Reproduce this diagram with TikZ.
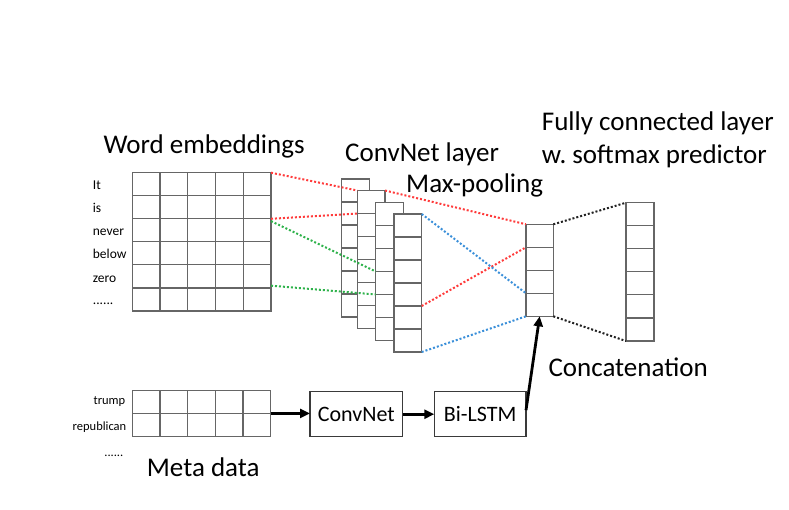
\documentclass[tikz,border=0pt]{standalone}
\usepackage{fontspec}
\setmainfont{Carlito}
\usetikzlibrary{calc,arrows.meta}
\definecolor{gridgray}{HTML}{666666}
\definecolor{boxgray}{HTML}{3A3A3A}
\definecolor{dred}{HTML}{FF3B3B}
\definecolor{dgreen}{HTML}{2EB24B}
\definecolor{dblue}{HTML}{3A8FD9}
\definecolor{dblack}{HTML}{222222}
\tikzset{
  gridnode/.style={draw=gridgray, line width=1.1pt, fill=white, inner sep=0pt, outer sep=0pt, rectangle},
  gl/.style={draw=gridgray, line width=1.1pt},
  dotline/.style={line width=2pt, dash pattern=on 2pt off 2pt},
  title/.style={font=\fontsize{27}{32}\selectfont, inner sep=0pt, anchor=base west},
  word/.style={font=\fontsize{13.5}{16}\selectfont, inner sep=0pt, anchor=base west},
  metaw/.style={font=\fontsize{12.5}{15}\selectfont, inner sep=0pt, anchor=base east},
  procbox/.style={draw=boxgray, line width=1.2pt, fill=white, inner sep=0pt, outer sep=0pt,
    minimum height=45pt, font=\fontsize{22}{26}\selectfont},
  flow/.style={line width=2.8pt, -{Triangle[length=10pt,width=9pt]}},
}
\newcommand\mkrows[3]{% node, rows, list of interior indices
  \foreach \k in {#3}{\draw[gl] ($(#1.north west)!{\k/#2}!(#1.south west)$) -- ($(#1.north east)!{\k/#2}!(#1.south east)$);}}
\newcommand\mkcols[3]{%
  \foreach \k in {#3}{\draw[gl] ($(#1.north west)!{\k/#2}!(#1.north east)$) -- ($(#1.south west)!{\k/#2}!(#1.south east)$);}}
\begin{document}
\begin{tikzpicture}[x=1pt,y=-1pt]
\useasboundingbox (0,0) rectangle (789,509);
% word embeddings
\node[gridnode, minimum width=138.7pt, minimum height=138.3pt] (emb) at (201.65,241.85) {};
\mkrows{emb}{6}{1,...,5}
\mkcols{emb}{5}{1,...,4}
% meta data grid
\node[gridnode, minimum width=138.4pt, minimum height=45.3pt] (meta) at (201.5,413.4) {};
\mkrows{meta}{2}{1}
\mkcols{meta}{5}{1,...,4}
% conv layers
\node[gridnode, minimum width=27.7pt, minimum height=138pt] (L1) at (355.55,248) {};
\mkrows{L1}{6}{1,...,5}
\node[gridnode, minimum width=27.7pt, minimum height=138pt] (L2) at (371.15,259.5) {};
\mkrows{L2}{6}{1,...,5}
\node[gridnode, minimum width=27.7pt, minimum height=138pt] (L3) at (389.55,271.5) {};
\mkrows{L3}{6}{1,...,5}
\node[gridnode, minimum width=27.7pt, minimum height=138pt] (L4) at (407.85,283) {};
\mkrows{L4}{6}{1,...,5}
% concatenation vector
\node[gridnode, minimum width=27.3pt, minimum height=92pt] (cat) at (539.65,270.3) {};
\mkrows{cat}{4}{1,2,3}
% fully connected
\node[gridnode, minimum width=28pt, minimum height=138.3pt] (fc) at (640,271.85) {};
\mkrows{fc}{6}{1,...,5}
% process boxes
\node[procbox, minimum width=92.7pt] (conv) at (356.35,414.2) {ConvNet};
\node[procbox, minimum width=91.7pt] (lstm) at (480.15,414.2) {Bi-LSTM};
% dotted connectors
\draw[dotline, dred] (emb.north east) -- (L2.north west);
\draw[dotline, dred] ($(emb.north east)!{2/6}!(emb.south east)$) -- ($(L2.north west)!{1/6}!(L2.south west)$);
\draw[dotline, dgreen] ($(emb.north east)!{2.1/6}!(emb.south east)$) -- ($(L3.north west)!{3/6}!(L3.south west)$);
\draw[dotline, dgreen] ($(emb.north east)!{4.9/6}!(emb.south east)$) -- ($(L3.north west)!{4/6}!(L3.south west)$);
\draw[dotline, dred] (L2.north east) -- (cat.north west);
\draw[dotline, dred] ($(L4.north east)!{4/6}!(L4.south east)$) -- ($(cat.north west)!{1/4}!(cat.south west)$);
\draw[dotline, dblue] (L4.north east) -- ($(cat.north west)!{3/4}!(cat.south west)$);
\draw[dotline, dblue] (L4.south east) -- (cat.south west);
\draw[dotline, dblack] (cat.north east) -- (fc.north west);
\draw[dotline, dblack] (cat.south east) -- (fc.south west);
% arrows
\draw[flow] (meta.east) -- (meta.east -| conv.west);
\draw[flow] (conv.east) -- (lstm.west);
\coordinate (lstmout) at ($(lstm.north east)!0.41!(lstm.south east)$);
\draw[flow] (lstmout) -- (cat.south);
% titles
\node[title] (t1) at (103.3,153.3) {Word embeddings};
\node[title] (t2) at (345,161.7) {ConvNet layer};
\node[title] (t3) at (406,192.3) {Max-pooling};
\node[title] (t4) at (541.7,130) {Fully connected layer};
\node[title] (t5) at (541.7,163) {w.\ softmax predictor};
\node[title] (t6) at (548.3,376.7) {Concatenation};
\node[title] (t7) at (146.7,476.7) {Meta data};
% words
\node[word] (w1) at (92.7,189.3) {It};
\node[word] (w2) at (92.7,212.5) {is};
\node[word] (w3) at (92.7,235.7) {never};
\node[word] (w4) at (92.7,258.9) {below};
\node[word] (w5) at (92.7,282.1) {zero};
\node[word] (w6) at (92.7,304) {......};
\node[metaw] (m1) at (125.5,404) {trump};
\node[metaw] (m2) at (126.5,430.5) {republican};
\node[metaw] (m3) at (123.5,456) {......};
\end{tikzpicture}
\end{document}
